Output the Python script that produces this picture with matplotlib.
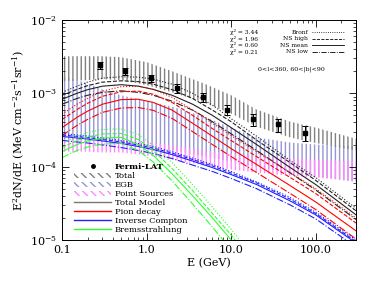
import matplotlib
matplotlib.use("Agg")
import matplotlib.pyplot as plt
from matplotlib.lines import Line2D
from matplotlib.patches import Patch
from matplotlib.ticker import LogLocator, NullFormatter

plt.rcParams['font.family'] = ['DejaVu Serif']
plt.rcParams['mathtext.fontset'] = 'dejavuserif'
plt.rcParams['hatch.linewidth'] = 1.0

# Fermi-LAT data
lat_e = [0.28, 0.56, 1.12, 2.27, 4.6, 8.95, 18.2, 36.2, 73.7]
lat_flux = [2.42e-3, 2.0e-3, 1.6e-3, 1.17e-3, 8.8e-4, 6.0e-4, 4.4e-4, 3.76e-4, 2.9e-4]
lat_err = [2.9e-4, 2.0e-4, 1.9e-4, 1.6e-4, 1.3e-4, 1.0e-4, 8e-5, 7.5e-5, 6.4e-5]

# hatched bands
band_e = [0.1, 0.2, 0.3, 0.5, 1, 2, 5, 10, 20, 50, 100, 300]
total_hi = [3.2e-3, 3.2e-3, 3.2e-3, 3.1e-3, 2.66e-3, 2.0e-3, 1.33e-3, 9.4e-4, 6.0e-4, 4.1e-4, 3.4e-4, 2.4e-4]
total_lo = [1.46e-3, 1.51e-3, 1.56e-3, 1.51e-3, 1.29e-3, 1.03e-3, 7.3e-4, 5.3e-4, 3.5e-4, 2.5e-4, 2.1e-4, 1.66e-4]
egb_hi = [1.71e-3, 1.37e-3, 1.13e-3, 9.4e-4, 7.8e-4, 6.6e-4, 4.7e-4, 3.4e-4, 2.5e-4, 2.13e-4, 2.0e-4, 1.88e-4]
egb_lo = [2.34e-4, 2.27e-4, 2.2e-4, 2.07e-4, 1.88e-4, 1.66e-4, 1.37e-4, 1.17e-4, 1.0e-4, 8.3e-5, 7.3e-5, 6.2e-5]
ps_hi = [2.34e-4, 2.34e-4, 2.34e-4, 2.34e-4, 2.2e-4, 1.94e-4, 1.66e-4, 1.51e-4, 1.37e-4, 1.29e-4, 1.25e-4, 1.17e-4]
ps_lo = [1.6e-4, 1.6e-4, 1.56e-4, 1.56e-4, 1.42e-4, 1.25e-4, 1.03e-4, 9.1e-5, 8.3e-5, 7.5e-5, 7.1e-5, 6.4e-5]

# model curves
model_e = [0.1, 0.15, 0.2, 0.3, 0.5, 0.8, 1.2, 2, 3.5, 6, 10, 20, 50, 100, 300]
total_bronf = [1.03e-3, 1.25e-3, 1.42e-3, 1.61e-3, 1.68e-3, 1.66e-3, 1.56e-3, 1.33e-3, 1.0e-3, 6.9e-4, 4.5e-4, 2.6e-4, 1.21e-4, 7.1e-5, 2.7e-5]
total_high = [9.4e-4, 1.13e-3, 1.27e-3, 1.42e-3, 1.48e-3, 1.44e-3, 1.33e-3, 1.12e-3, 8.5e-4, 5.9e-4, 4.1e-4, 2.3e-4, 1.13e-4, 6.5e-5, 2.5e-5]
total_mean = [8.3e-4, 1.0e-3, 1.12e-3, 1.25e-3, 1.31e-3, 1.25e-3, 1.13e-3, 9.4e-4, 7.1e-4, 5.0e-4, 3.4e-4, 2.0e-4, 9.7e-5, 5.7e-5, 2.2e-5]
total_low = [7.1e-4, 8.5e-4, 9.4e-4, 1.03e-3, 1.08e-3, 1.03e-3, 9.4e-4, 7.8e-4, 5.9e-4, 4.1e-4, 2.8e-4, 1.66e-4, 8.2e-5, 4.8e-5, 1.9e-5]

pion_bronf = [5.2e-4, 7.1e-4, 8.5e-4, 1.07e-3, 1.23e-3, 1.25e-3, 1.13e-3, 8.8e-4, 5.9e-4, 3.9e-4, 2.65e-4, 1.6e-4, 8.3e-5, 5.0e-5, 2.0e-5]
pion_high = [4.4e-4, 6.0e-4, 7.3e-4, 9.1e-4, 1.05e-3, 1.07e-3, 9.7e-4, 7.5e-4, 5.0e-4, 3.3e-4, 2.27e-4, 1.37e-4, 7.1e-5, 4.3e-5, 1.7e-5]
pion_mean = [3.4e-4, 4.7e-4, 5.7e-4, 7.1e-4, 8.2e-4, 8.3e-4, 7.5e-4, 5.9e-4, 3.9e-4, 2.6e-4, 1.76e-4, 1.07e-4, 5.5e-5, 3.3e-5, 1.33e-5]
pion_low = [2.66e-4, 3.65e-4, 4.4e-4, 5.5e-4, 6.3e-4, 6.4e-4, 5.85e-4, 4.55e-4, 3.0e-4, 2.0e-4, 1.37e-4, 8.3e-5, 4.3e-5, 2.6e-5, 1.03e-5]

ic_bronf = [2.83e-4, 2.70e-4, 2.62e-4, 2.46e-4, 2.27e-4, 2.07e-4, 1.88e-4, 1.60e-4, 1.31e-4, 1.07e-4, 8.6e-5, 6.2e-5, 3.8e-5, 2.4e-5, 1.0e-5]
ic_high = [2.70e-4, 2.58e-4, 2.49e-4, 2.35e-4, 2.17e-4, 1.97e-4, 1.79e-4, 1.53e-4, 1.25e-4, 1.02e-4, 8.2e-5, 6.0e-5, 3.6e-5, 2.3e-5, 9.5e-6]
ic_mean = [2.58e-4, 2.46e-4, 2.38e-4, 2.24e-4, 2.07e-4, 1.88e-4, 1.71e-4, 1.46e-4, 1.19e-4, 9.7e-5, 7.8e-5, 5.7e-5, 3.4e-5, 2.2e-5, 9.1e-6]
ic_low = [2.28e-4, 2.17e-4, 2.10e-4, 1.98e-4, 1.82e-4, 1.66e-4, 1.51e-4, 1.29e-4, 1.05e-4, 8.6e-5, 6.9e-5, 5.0e-5, 3.0e-5, 1.94e-5, 8.0e-6]

brems_bronf = [2.07e-4, 2.58e-4, 2.92e-4, 3.21e-4, 3.26e-4, 2.74e-4, 1.94e-4, 1.13e-4, 5.7e-5, 2.8e-5, 1.4e-5, 5.0e-6, 9.1e-7, 2.3e-7, 2.1e-8]
brems_high = [1.82e-4, 2.27e-4, 2.54e-4, 2.79e-4, 2.83e-4, 2.34e-4, 1.66e-4, 9.4e-5, 4.7e-5, 2.3e-5, 1.17e-5, 3.9e-6, 7.1e-7, 1.8e-7, 1.6e-8]
brems_mean = [1.6e-4, 2.0e-4, 2.24e-4, 2.46e-4, 2.5e-4, 2.0e-4, 1.42e-4, 8.0e-5, 4.0e-5, 2.0e-5, 1.0e-5, 3.3e-6, 5.9e-7, 1.4e-7, 1.3e-8]
brems_low = [1.33e-4, 1.66e-4, 1.85e-4, 2.03e-4, 2.07e-4, 1.66e-4, 1.15e-4, 6.4e-5, 3.1e-5, 1.5e-5, 7.3e-6, 2.3e-6, 4.0e-7, 9.4e-8, 8.3e-9]

model_names = ['Bronf', 'NS high', 'NS mean', 'NS low']
chi2 = ['3.44', '1.96', '0.60', '0.21']
styles = [':', '--', '-', '-.']

fig = plt.figure(figsize=(3.74, 2.81), dpi=100)
ax = fig.add_axes([0.166, 0.146, 0.786, 0.783])

# bands
ax.fill_between(band_e, egb_lo, egb_hi, facecolor='none', edgecolor='#9595d5', hatch='||||', linewidth=0, zorder=1)
ax.fill_between(band_e, ps_lo, ps_hi, facecolor='none', edgecolor='#ff88ff', hatch='||||', linewidth=0, zorder=1)
ax.fill_between(band_e, total_lo, total_hi, facecolor='none', edgecolor='#808080', hatch='||||', linewidth=0, zorder=1)

# model lines
components = [
    ('#222222', [total_bronf, total_high, total_mean, total_low]),
    ('red', [pion_bronf, pion_high, pion_mean, pion_low]),
    ('#2020ff', [ic_bronf, ic_high, ic_mean, ic_low]),
    ('#30ff30', [brems_bronf, brems_high, brems_mean, brems_low]),
]
for color, curves in components:
    for vals, ls in zip(curves, styles):
        ax.plot(model_e, vals, color=color, ls=ls, lw=0.8, zorder=2)

ax.errorbar(lat_e, lat_flux, yerr=lat_err, fmt='s', color='k', ms=2.5,
            elinewidth=0.7, capsize=2, capthick=0.7, zorder=3)

ax.set_xscale('log')
ax.set_yscale('log')
ax.set_xlim(0.1, 300)
ax.set_ylim(1e-5, 1e-2)
ax.set_xticks([0.1, 1, 10, 100])
ax.set_xticklabels(['0.1', '1.0', '10.0', '100.0'])
ax.xaxis.set_minor_locator(LogLocator(subs=range(2, 10)))
ax.xaxis.set_minor_formatter(NullFormatter())
ax.tick_params(which='both', direction='in', top=True, right=True, labelsize=8)
ax.tick_params(which='major', length=5, width=0.6)
ax.tick_params(which='minor', length=2.5, width=0.5)
for s in ax.spines.values():
    s.set_linewidth(0.7)

ax.set_xlabel('E (GeV)', fontsize=8, labelpad=2)
ax.set_ylabel(r'E$^2$dN/dE (MeV cm$^{-2}$s$^{-1}$sr$^{-1}$)', fontsize=8, labelpad=2)

# lower-left legend
handles = [
    Line2D([], [], marker='o', color='k', ls='none', ms=2.5),
    Patch(facecolor='none', edgecolor='#808080', hatch='\\\\\\\\', linewidth=0),
    Patch(facecolor='none', edgecolor='#9595d5', hatch='\\\\\\\\', linewidth=0),
    Patch(facecolor='none', edgecolor='#ff88ff', hatch='\\\\\\\\', linewidth=0),
    Line2D([], [], color='#777777', lw=1),
    Line2D([], [], color='red', lw=1),
    Line2D([], [], color='#2020ff', lw=1),
    Line2D([], [], color='#30ff30', lw=1),
]
labels = ['Fermi-LAT', 'Total', 'EGB', 'Point Sources', 'Total Model',
          'Pion decay', 'Inverse Compton', 'Bremsstrahlung']
leg1 = ax.legend(handles, labels, loc='lower left', bbox_to_anchor=(0.02, 0.0),
                 frameon=False, fontsize=6, handlelength=4.5, handleheight=0.6,
                 labelspacing=0.12, handletextpad=0.4, borderpad=0.2)
leg1.get_texts()[0].set_fontweight('bold')

# upper-right key of model variants
row_y = 0.945
for name, c, ls in zip(model_names, chi2, styles):
    ax.text(0.57, row_y, 'χ² = ' + c, transform=ax.transAxes,
            fontsize=4.3, ha='left', va='center')
    ax.text(0.837, row_y, name, transform=ax.transAxes,
            fontsize=4.3, ha='right', va='center')
    ax.add_line(Line2D([0.85, 0.959], [row_y, row_y], transform=ax.transAxes,
                       color='k', ls=ls, lw=0.6))
    row_y -= 0.0295
ax.text(0.78, 0.775, '0<l<360, 60<|b|<90', transform=ax.transAxes,
        fontsize=4.5, ha='center', va='center')

fig.savefig('out.png', dpi=100)
